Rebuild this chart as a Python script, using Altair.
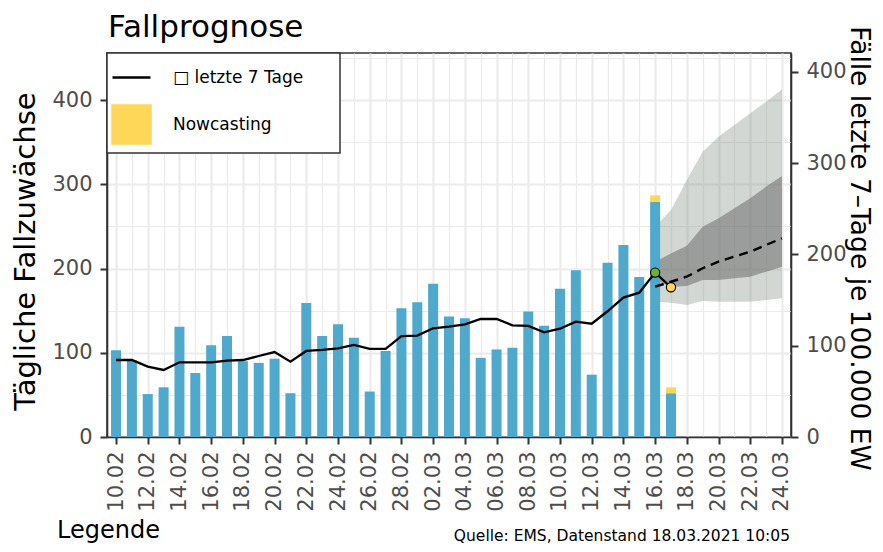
import json
import altair as alt
import pandas as pd

FONT = "DejaVu Sans"

# ---------------- data ----------------
bar_dates = ["10.02", "11.02", "12.02", "13.02", "14.02", "15.02", "16.02", "17.02", "18.02",
             "19.02", "20.02", "21.02", "22.02", "23.02", "24.02", "25.02", "26.02", "27.02",
             "28.02", "01.03", "02.03", "03.03", "04.03", "05.03", "06.03", "07.03", "08.03",
             "09.03", "10.03", "11.03", "12.03", "13.03", "14.03", "15.03", "16.03", "17.03"]
cases = [103, 91, 51, 59, 131, 76, 109, 120, 90, 88, 93, 52, 159, 120, 134, 118, 54, 102,
         153, 160, 182, 143, 141, 94, 104, 106, 149, 132, 176, 198, 74, 207, 228, 190, 279, 52]

nowcast_dates = ["16.03", "17.03"]
nowcast = [8, 7]

incidence = [84.3, 84.3, 77, 73.4, 81.8, 81.8, 81.8, 83.6, 84.3, 88.7, 93, 82.5, 94.2, 95.3,
             97, 100.8, 96.4, 96.4, 110.5, 111, 119, 120.8, 123.4, 129.2, 129.2, 122.3, 121.6,
             114.7, 118.6, 126.3, 124, 137.7, 152.6, 158, 180, 164]

fc_dates = ["16.03", "17.03", "18.03", "19.03", "20.03", "21.03", "22.03", "23.03", "24.03"]
fc_median = [164.6, 170, 175.6, 184.8, 192, 197.5, 203, 210.3, 217.6]
fc_outer_hi = [230, 248.6, 281.5, 312.5, 328.9, 341.7, 354.5, 367.2, 380.8]
fc_outer_lo = [148, 147, 144.6, 149, 148.2, 148.2, 148.2, 150, 151.9]
fc_inner_hi = [192, 201, 209.5, 230.3, 239.5, 250.5, 261.4, 274.2, 285.9]
fc_inner_lo = [172, 164.6, 165.4, 172, 172, 173.8, 175.6, 181, 186.5]

marker_dates = ["16.03", "17.03"]
marker_values = [180, 164]
marker_colors = ["#6FB02C", "#FFD758"]

tick_labels = ["10.02", "12.02", "14.02", "16.02", "18.02", "20.02", "22.02", "24.02", "26.02",
               "28.02", "02.03", "04.03", "06.03", "08.03", "10.03", "12.03", "14.03", "16.03",
               "18.03", "20.03", "22.03", "24.03"]

legend_items = ["\u25a1 letzte 7 Tage", "Nowcasting"]
legend_colors = ["black", "#FFD758"]
legend_shapes = ["stroke", "square"]

title_text = "Fallprognose"
left_title = "Tägliche Fallzuwächse"
right_title = "Fälle letzte 7\u2013Tage je 100.000 EW"
legend_word = "Legende"
source_text = "Quelle: EMS, Datenstand 18.03.2021 10:05"

left_max = 456
right_max = 420.5


def day(s):
    d, m = s.split(".")
    return (pd.Timestamp(2021, int(m), int(d)) - pd.Timestamp(2021, 2, 10)).days


bars_df = pd.DataFrame({"day": [day(s) for s in bar_dates], "cases": cases, "inc": incidence})
now_df = pd.DataFrame({"day": [day(s) for s in nowcast_dates], "nc": nowcast})
now_df["base"] = [cases[bar_dates.index(s)] for s in nowcast_dates]
now_df["top"] = now_df["base"] + now_df["nc"]
fc_df = pd.DataFrame({"day": [day(s) for s in fc_dates], "med": fc_median,
                      "olo": fc_outer_lo, "ohi": fc_outer_hi,
                      "ilo": fc_inner_lo, "ihi": fc_inner_hi})
mk_df = pd.DataFrame({"day": [day(s) for s in marker_dates], "v": marker_values,
                      "col": marker_colors})
leg_df = pd.DataFrame({"item": legend_items})

# ---------------- scales & axes ----------------
even = "datum.value % 2 == 0"
x_axis = alt.Axis(
    values=list(range(0, 2 * len(tick_labels) - 1)),
    labelExpr=f"{even} ? {json.dumps(tick_labels)}[datum.value / 2] : ''",
    labelAngle=270, labelFontSize=21, labelColor="#4D4D4D", labelPadding=7,
    labelOverlap=False, labelFont=FONT,
    tickSize=7, tickWidth=2, tickColor="#333333",
    tickOpacity={"condition": {"test": even, "value": 1}, "value": 0},
    grid=True, gridColor="#EBEBEB",
    gridWidth={"condition": {"test": even, "value": 2.2}, "value": 1.2},
    domainColor="#333333", domainWidth=1.6, title=None,
)
X = alt.X("day:Q", scale=alt.Scale(domain=[-0.57, 42.57], nice=False, zero=False, padding=0),
          axis=x_axis)

hund = "datum.value % 100 == 0"
left_axis = alt.Axis(
    orient="left", values=list(range(0, 451, 50)),
    labelExpr=f"{hund} ? datum.label : ''",
    labelFontSize=21, labelColor="#4D4D4D", labelPadding=8, labelFont=FONT,
    tickSize=7, tickWidth=2, tickColor="#333333",
    tickOpacity={"condition": {"test": hund, "value": 1}, "value": 0},
    grid=True, gridColor="#EBEBEB",
    gridWidth={"condition": {"test": hund, "value": 2.2}, "value": 1.2},
    domainColor="#333333", domainWidth=1.6,
    title=left_title, titleFontSize=29, titleFontWeight="normal", titleColor="black",
    titleFont=FONT, titleAngle=270, titleAlign="center", titleBaseline="alphabetic",
    titleX=-73, titleY=198,
)
left_scale = alt.Scale(domain=[0, left_max], nice=False, zero=True, padding=0)

right_axis = alt.Axis(
    orient="right", values=[0, 100, 200, 300, 400],
    labelFontSize=21, labelColor="#4D4D4D", labelPadding=8, labelFont=FONT,
    tickSize=7, tickWidth=2, tickColor="#333333", grid=False,
    domainColor="#333333", domainWidth=1.6,
    title=right_title, titleFontSize=26.5, titleFontWeight="normal", titleColor="black",
    titleFont=FONT, titleAngle=90, titleAlign="center", titleBaseline="alphabetic",
    titleX=59, titleY=195,
)
right_scale = alt.Scale(domain=[0, right_max], nice=False, zero=True)

# ---------------- layers ----------------
outer = alt.Chart(fc_df).mark_area(color="#7E8A80", opacity=0.34).encode(
    x=X, y=alt.Y("olo:Q", scale=right_scale, axis=right_axis), y2="ohi:Q")
inner = alt.Chart(fc_df).mark_area(color="#616461", opacity=0.5).encode(
    x=X, y=alt.Y("ilo:Q", scale=right_scale, axis=right_axis), y2="ihi:Q")
bands = alt.layer(outer, inner)

blue = alt.Chart(bars_df).mark_bar(size=10, color="#4EA9CC").encode(
    x=X, y=alt.Y("cases:Q", scale=left_scale, axis=left_axis))
yellow = alt.Chart(now_df).mark_bar(size=10, color="#FFD758").encode(
    x=X, y=alt.Y("base:Q", scale=left_scale, axis=left_axis), y2="top:Q")
bars = alt.layer(blue, yellow)

line = alt.Chart(bars_df).mark_line(color="black", strokeWidth=2.3).encode(
    x=X, y=alt.Y("inc:Q", scale=right_scale, axis=None))
dashed = alt.Chart(fc_df).mark_line(color="black", strokeWidth=2.4, strokeDash=[9, 6]).encode(
    x=X, y=alt.Y("med:Q", scale=right_scale, axis=None))
markers = alt.Chart(mk_df).mark_point(filled=True, size=85, stroke="black", strokeWidth=1.1,
                                      opacity=1).encode(
    x=X, y=alt.Y("v:Q", scale=right_scale, axis=None),
    fill=alt.Fill("col:N", scale=None))
lines = alt.layer(line, dashed, markers)

# trailing no-break spaces widen the legend box; the zero-width space keeps them from being trimmed
label_pad = "\u00a0" * 6 + "\u200b"
leg = alt.Legend(
    title=None, orient="none", legendX=0, legendY=0, padding=4,
    fillColor="white", strokeColor="#333333", symbolSize=1444, symbolStrokeWidth=2.6,
    rowPadding=14, labelFontSize=17, labelColor="black", labelFont=FONT, labelOffset=21,
    labelLimit=400,
    labelExpr="datum.label + '" + label_pad + "'",
)
legend_layer = alt.Chart(leg_df).mark_point(filled=True, strokeWidth=2.6, clip=True,
                                            opacity=1).encode(
    x=alt.value(-2000), y=alt.value(-2000),
    color=alt.Color("item:N", scale=alt.Scale(domain=legend_items, range=legend_colors), legend=leg),
    stroke=alt.Stroke("item:N", scale=alt.Scale(domain=legend_items, range=legend_colors), legend=leg),
    shape=alt.Shape("item:N", scale=alt.Scale(domain=legend_items, range=legend_shapes), legend=leg),
)

t_title = alt.Chart(pd.DataFrame({"t": [title_text]})).mark_text(
    font=FONT, fontSize=31, align="left", baseline="alphabetic", color="black").encode(
    text="t:N", x=alt.value(1), y=alt.value(-16))
t_leg = alt.Chart(pd.DataFrame({"t": [legend_word]})).mark_text(
    font=FONT, fontSize=24, align="left", baseline="alphabetic", color="black").encode(
    text="t:N", x=alt.value(-50), y=alt.value(485))
t_src = alt.Chart(pd.DataFrame({"t": [source_text]})).mark_text(
    font=FONT, fontSize=15.5, align="right", baseline="alphabetic", color="black").encode(
    text="t:N", x=alt.value(683), y=alt.value(488))

chart = alt.layer(bands, bars, lines, legend_layer, t_title, t_leg, t_src).resolve_scale(
    y="independent"
).properties(
    width=684, height=384,
    autosize=alt.AutoSizeParams(type="none"),
    padding={"left": 99, "top": 45, "right": 84, "bottom": 107},
    background="white",
).configure(font=FONT).configure_view(stroke="#333333", strokeWidth=1.6
).configure_legend(strokeWidth=1.5)

chart.save("out.html", embed_options={"renderer": "svg", "actions": False})
